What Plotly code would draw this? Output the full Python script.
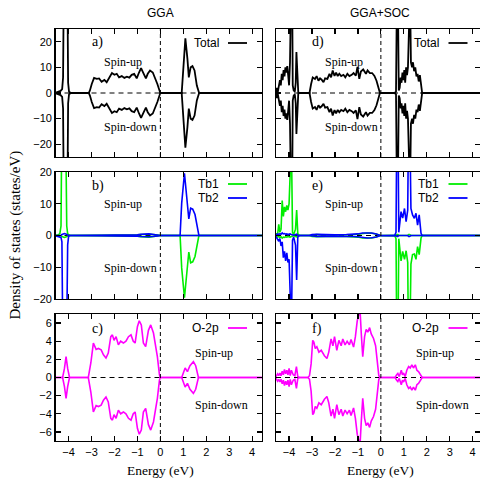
import plotly.graph_objects as go

W, H = 480, 479
SANS = "Liberation Sans"
SERIF = "Liberation Serif"

# ---------------- panel a) GGA total ----------------
a_E = [-4.6, -4.5, -4.42, -4.35, -4.28, -4.24, -4.21, -4.13, -4.05, -4.02, -3.98, -3.9,
       -3.12, -3.07, -2.99, -2.89, -2.77, -2.67, -2.56, -2.44, -2.34, -2.23, -2.11, -2.00,
       -1.90, -1.80, -1.68, -1.57, -1.46, -1.35, -1.25, -1.14, -1.03, -0.93, -0.84, -0.74,
       -0.63, -0.55, -0.45, -0.33, -0.23, -0.13, -0.02, 0.0,
       0.93, 1.0, 1.09, 1.18, 1.24, 1.32, 1.40, 1.49, 1.59, 1.69, 4.5]
a_up = [0, 0.3, 0.6, 0.8, 1.5, 6, 40, 120, 40, 4, 0.5, 0,
        0, 1.0, 3.5, 5.9, 5.5, 5.7, 4.4, 5.1, 4.2, 5.8, 7.8, 7.1,
        7.5, 6.1, 6.6, 5.9, 6.4, 6.0, 7.1, 7.5, 5.7, 8.0, 9.7, 7.8,
        5.7, 7.5, 8.8, 8.0, 6.0, 3.5, 0.5, 0,
        0, 10.7, 21.4, 13.3, 6.1, 10.0, 10.5, 8.8, 2.9, 0, 0]
a_dn = [0, -0.3, -0.6, -0.8, -1.5, -6, -40, -120, -40, -4, -0.5, 0,
        0, -1.0, -3.5, -5.9, -5.5, -5.7, -4.4, -5.1, -4.2, -5.8, -7.8, -7.1,
        -7.5, -6.1, -6.6, -5.9, -6.4, -6.0, -7.1, -7.5, -5.7, -8.0, -9.7, -7.8,
        -5.7, -7.5, -8.8, -8.0, -6.0, -3.5, -0.5, 0,
        0, -10.7, -21.4, -13.3, -6.1, -10.0, -10.5, -8.8, -2.9, 0, 0]

# ---------------- panel d) GGA+SOC total ----------------
d_E = [-4.6, -4.57, -4.53, -4.49, -4.45, -4.40, -4.36, -4.32, -4.28, -4.24, -4.20, -4.16,
       -4.12, -4.08, -4.04, -4.00, -3.96, -3.92, -3.88, -3.84, -3.80, -3.75, -3.71, -3.68,
       -3.64, -3.60, -3.55,
       -3.11, -3.04, -2.97, -2.87, -2.80, -2.72, -2.65, -2.58, -2.50, -2.43, -2.33, -2.24,
       -2.17, -2.10, -2.02, -1.95, -1.88, -1.81, -1.73, -1.63, -1.55, -1.46, -1.37, -1.27,
       -1.19, -1.09, -1.02, -0.94, -0.87, -0.77, -0.65, -0.58, -0.48, -0.38, -0.28, -0.19,
       -0.12, -0.04,
       0.60, 0.66, 0.70, 0.74, 0.78, 0.82, 0.86, 0.90, 0.94, 0.98, 1.02, 1.06, 1.10, 1.14,
       1.18, 1.22, 1.27, 1.31, 1.36, 1.40, 1.45, 1.50, 1.55, 1.60, 1.65, 1.70, 1.75, 1.80, 4.5]
d_up = [0, 0.5, 2.0, 0.5, 2.5, 5.0, 3.0, 7.5, 5.0, 9.0, 6.5, 10.0,
        8.0, 10.5, 7.0, 3.0, 12.0, 60, 60, 3.0, 1.0, 0.5, 4.0, 16.0,
        3.0, 0.3, 0,
        0, 3.5, 6.1, 5.5, 6.6, 4.8, 5.7, 5.2, 4.2, 5.7, 5.5, 7.5,
        6.1, 8.8, 6.7, 8.0, 6.6, 7.5, 6.6, 7.1, 6.1, 7.5, 6.6, 7.1,
        7.8, 6.8, 10.2, 5.5, 8.4, 9.2, 7.5, 8.8, 7.8, 7.8, 6.7, 4.8,
        2.5, 0,
        0, 0.5, 40, 40, 1.0, 2.0, 6.0, 4.0, 8.0, 5.0, 9.0, 4.0, 10.0, 7.0,
        10.0, 40, 40, 12.0, 10.0, 12.0, 8.5, 10.0, 6.5, 7.5, 4.5, 7.0, 3.0, 0, 0]
d_dn = [0, -0.5, -2.0, -0.5, -2.5, -5.0, -3.0, -7.5, -5.0, -9.0, -6.5, -10.0,
        -8.0, -10.5, -7.0, -3.0, -12.0, -60, -60, -3.0, -1.0, -0.5, -4.0, -16.0,
        -3.0, -0.3, 0,
        0, -3.5, -6.1, -5.5, -6.6, -4.8, -5.7, -5.2, -4.2, -5.7, -5.5, -7.5,
        -6.1, -8.8, -6.7, -8.0, -6.6, -7.5, -6.6, -7.1, -6.1, -7.5, -6.6, -7.1,
        -7.8, -6.8, -10.2, -5.5, -8.4, -9.2, -7.5, -8.8, -7.8, -7.8, -6.7, -4.8,
        -2.5, 0,
        0, -0.5, -40, -40, -1.0, -2.0, -6.0, -4.0, -8.0, -5.0, -9.0, -4.0, -10.0, -7.0,
        -10.0, -40, -40, -12.0, -10.0, -12.0, -8.5, -10.0, -6.5, -7.5, -4.5, -7.0, -3.0, 0, 0]

# ---------------- panel b) GGA Tb1 / Tb2 ----------------
b_E = [-4.6, -4.45, -4.38, -4.33, -4.29, -4.24, -4.18, -4.12, -4.08, -4.04, -4.0, -3.94, -3.85,
       -3.12, -3.0, -2.5, -2.0, -1.5, -1.0, -0.85, -0.7, -0.5, -0.35, -0.2, -0.1, 0.0,
       0.86, 0.93, 1.05, 1.15, 1.24, 1.32, 1.41, 1.51, 1.61, 1.68, 4.5]
tb1_up = [0, 0.2, 0.6, 3, 40, 90, 60, 30, 3, 0.5, 0.2, 0, 0,
          0, 0.1, 0.15, 0.15, 0.2, 0.2, 0.3, 0.4, 0.4, 0.3, 0.3, 0.15, 0,
          0, 0, 0, 0, 0, 0, 0, 0, 0, 0, 0]
tb1_dn = [0, 0, 0, -0.1, -0.3, -0.5, -0.6, -0.5, -0.3, -0.1, 0, 0, 0,
          0, -0.1, -0.2, -0.2, -0.2, -0.2, -0.4, -0.5, -0.5, -0.4, -0.3, -0.15, 0,
          0, -10.2, -19.6, -11.2, -5.2, -8.6, -8.3, -6.6, -1.9, 0, 0]
tb2_up = [0, 0, 0, 0.1, 0.3, 0.5, 0.6, 0.5, 0.3, 0.1, 0, 0, 0,
          0, 0.1, 0.2, 0.2, 0.2, 0.2, 0.4, 0.5, 0.5, 0.4, 0.3, 0.15, 0,
          0, 10.2, 19.6, 11.2, 5.2, 8.6, 8.3, 6.6, 1.9, 0, 0]
tb2_dn = [0, -0.2, -0.4, -0.6, -2, -40, -90, -60, -30, -3, -0.3, 0, 0,
          0, -0.1, -0.15, -0.15, -0.2, -0.2, -0.3, -0.4, -0.4, -0.3, -0.3, -0.15, 0,
          0, 0, 0, 0, 0, 0, 0, 0, 0, 0, 0]

# ---------------- panel e) GGA+SOC Tb1 / Tb2 ----------------
e_E = [-4.6, -4.55, -4.50, -4.45, -4.40, -4.35, -4.30, -4.25, -4.20, -4.15, -4.10, -4.05, -4.00,
       -3.96, -3.90, -3.85, -3.80, -3.72, -3.67, -3.62, -3.55,
       -3.12, -3.0, -2.8, -2.6, -2.4, -2.0, -1.5, -1.2, -1.0, -0.8, -0.6, -0.4, -0.2, -0.05,
       0.6, 0.66, 0.70, 0.74, 0.78, 0.82, 0.88, 0.95, 1.03, 1.10, 1.17, 1.21, 1.25, 1.31,
       1.38, 1.46, 1.53, 1.60, 1.67, 1.75, 1.80, 4.5]
tb1s_up = [0, 0.5, 0.3, 3.5, 1.0, 2.0, 11.0, 6.0, 9.0, 7.5, 9.5, 8.0, 10.0,
           30, 30, 1.0, 0.3, 2.0, 8.0, 0.5, 0,
           0, 0.2, 0.3, 0.2, 0.2, 0.15, 0.2, 0.3, 0.4, 0.7, 0.8, 0.7, 0.5, 0.1,
           0, 0, 0.3, 0.3, 0, 0, 0, 0, 0, 0, 0, 0.3, 0.3, 0,
           0, 0, 0, 0, 0, 0, 0, 0]
tb1s_dn = [0, -0.3, -0.5, -0.3, -0.6, -0.4, -0.8, -0.5, -0.6, -0.4, -0.5, -0.3, -0.4,
           -0.5, -0.3, -0.2, -0.1, -0.3, -0.4, -0.1, 0,
           0, -0.3, -0.4, -0.3, -0.3, -0.2, -0.3, -0.3, -0.5, -0.8, -0.9, -0.8, -0.5, -0.1,
           0, -1.0, -40, -40, -1.0, -4.0, -8.0, -5.0, -7.5, -4.8, -8.5, -40, -40, -9.0,
           -6.0, -5.8, -7.5, -3.5, -6.0, -0.8, 0, 0]
tb2s_up = [0, 0.3, 0.5, 0.3, 0.6, 0.4, 0.8, 0.5, 0.6, 0.4, 0.5, 0.3, 0.4,
           0.5, 0.3, 0.2, 0.1, 0.3, 0.4, 0.1, 0,
           0, 0.3, 0.4, 0.3, 0.3, 0.2, 0.3, 0.3, 0.5, 0.8, 0.9, 0.8, 0.5, 0.1,
           0, 1.0, 40, 40, 1.0, 3.3, 7.5, 5.5, 8.5, 4.4, 8.0, 40, 40, 8.5,
           6.5, 5.4, 7.0, 3.3, 6.5, 0.7, 0, 0]
tb2s_dn = [0, -0.5, -1.0, -1.8, -1.0, -3.3, -2.0, -7.0, -5.0, -8.0, -5.5, -8.5, -7.5,
           -30, -30, -1.5, -0.5, -3.0, -14.0, -0.5, 0,
           0, -0.2, -0.3, -0.2, -0.2, -0.15, -0.2, -0.3, -0.4, -0.7, -0.8, -0.7, -0.5, -0.1,
           0, 0, -0.3, -0.3, 0, 0, 0, 0, 0, 0, 0, -0.3, -0.3, 0,
           0, 0, 0, 0, 0, 0, 0, 0]

# ---------------- panel c) GGA O-2p ----------------
c_E = [-4.6, -4.26, -4.18, -4.11, -4.04, -3.96,
       -3.14, -3.03, -2.92, -2.80, -2.70, -2.58, -2.48, -2.37, -2.27, -2.16, -2.09, -2.02,
       -1.93, -1.83, -1.73, -1.61, -1.50, -1.39, -1.28, -1.18, -1.10, -1.00, -0.92, -0.83,
       -0.74, -0.64, -0.52, -0.42, -0.30, -0.22, -0.13, -0.04, 0.0,
       0.93, 1.0, 1.08, 1.18, 1.29, 1.44, 1.54, 1.66, 4.5]
c_up = [0, 0, 1.0, 2.3, 1.0, 0,
        0, 1.6, 3.8, 3.1, 3.2, 3.05, 2.5, 2.15, 2.7, 4.5, 4.7, 4.1,
        4.5, 3.6, 4.0, 3.8, 4.0, 4.5, 4.7, 4.0, 3.8, 5.6, 6.25, 5.8,
        3.8, 3.4, 5.2, 5.8, 4.9, 3.8, 2.3, 0.3, 0,
        0, 0.5, 1.05, 0.65, 1.3, 1.75, 1.3, 0, 0]
c_dn = [0, 0, -1.0, -2.3, -1.0, 0,
        0, -1.6, -3.8, -3.1, -3.2, -3.05, -2.5, -2.15, -2.7, -4.5, -4.7, -4.1,
        -4.5, -3.6, -4.0, -3.8, -4.0, -4.5, -4.7, -4.0, -3.8, -5.6, -6.25, -5.8,
        -3.8, -3.4, -5.2, -5.8, -4.9, -3.8, -2.3, -0.3, 0,
        0, -0.5, -1.05, -0.65, -1.3, -1.75, -1.3, 0, 0]

# ---------------- panel f) GGA+SOC O-2p ----------------
f_E = [-4.6, -4.55, -4.50, -4.45, -4.40, -4.35, -4.30, -4.25, -4.20, -4.15, -4.10, -4.05,
       -4.00, -3.95, -3.90, -3.82, -3.75, -3.68, -3.62, -3.55,
       -3.18, -3.11, -3.04, -2.97, -2.92, -2.86, -2.79, -2.70, -2.60, -2.46, -2.35, -2.27,
       -2.17, -2.09, -2.02, -1.92, -1.83, -1.73, -1.66, -1.56, -1.47, -1.37, -1.30, -1.19,
       -1.11, -1.03, -0.97, -0.91, -0.85, -0.79, -0.71, -0.64, -0.57, -0.49, -0.42, -0.32,
       -0.23, -0.16, -0.09, -0.03,
       0.62, 0.69, 0.74, 0.80, 0.85, 0.89, 0.94, 0.99, 1.06, 1.13, 1.21, 1.28, 1.35, 1.42,
       1.50, 1.57, 1.64, 1.72, 1.80, 4.5]
f_up = [0, 0.2, 0.4, 0.2, 0.5, 0.2, 0.7, 0.3, 0.9, 0.4, 0.8, 0.3,
        1.0, 0.2, 0.8, 0.3, 0.2, 1.2, 0.1, 0,
        0, 0.2, 1.5, 4.1, 3.9, 3.2, 3.4, 2.8, 3.0, 2.4, 2.1, 2.8,
        4.25, 3.5, 4.5, 3.0, 4.1, 3.5, 4.25, 3.6, 4.0, 3.6, 4.2, 3.35,
        4.5, 6.25, 6.8, 7.5, 4.7, 2.3, 4.5, 5.3, 5.0, 5.5, 4.8, 4.3,
        3.5, 1.8, 0.2, 0,
        0, 0.3, 0.45, 0.1, 0.65, 0.8, 0.3, 0.5, 0.1, 0.8, 1.2, 1.05, 1.4, 1.05,
        1.4, 0.8, 0.65, 0.3, 0, 0]
f_dn = [0, -0.2, -0.4, -0.2, -0.5, -0.2, -0.7, -0.3, -0.9, -0.4, -0.8, -0.3,
        -1.0, -0.2, -0.8, -0.3, -0.2, -1.2, -0.1, 0,
        0, -0.2, -1.5, -4.1, -3.9, -3.2, -3.4, -2.8, -3.0, -2.4, -2.1, -2.8,
        -4.25, -3.5, -4.5, -3.0, -4.1, -3.5, -4.25, -3.6, -4.0, -3.6, -4.2, -3.35,
        -4.5, -6.25, -6.8, -7.5, -4.7, -2.3, -4.5, -5.3, -5.0, -5.5, -4.8, -4.3,
        -3.5, -1.8, -0.2, 0,
        0, -0.3, -0.45, -0.1, -0.65, -0.8, -0.3, -0.5, -0.1, -0.8, -1.2, -1.05, -1.4, -1.05,
        -1.4, -0.8, -0.65, -0.3, 0, 0]

x_ticks = [-4, -3, -2, -1, 0, 1, 2, 3, 4]
tot_ticks = [-20, -10, 0, 10, 20]
tb_ticks = [-20, -10, 0, 10, 20]
o_ticks = [-6, -4, -2, 0, 2, 4, 6]

BLACK = "#000000"
GREEN = "#00ee00"
BLUE = "#0000ff"
MAGENTA = "#ff00ff"

fig = go.Figure()


def add(xs, ys, color, width, xa, ya):
    n = min(len(xs), len(ys))
    fig.add_trace(go.Scatter(x=xs[:n], y=ys[:n], mode="lines",
                             line=dict(color=color, width=width),
                             xaxis=xa, yaxis=ya, showlegend=False, hoverinfo="skip"))


add(a_E, a_up, BLACK, 1.8, "x", "y")
add(a_E, a_dn, BLACK, 1.8, "x", "y")
add(d_E, d_up, BLACK, 1.8, "x2", "y2")
add(d_E, d_dn, BLACK, 1.8, "x2", "y2")
add(b_E, tb1_up, GREEN, 1.6, "x3", "y3")
add(b_E, tb1_dn, GREEN, 1.6, "x3", "y3")
add(b_E, tb2_up, BLUE, 1.6, "x3", "y3")
add(b_E, tb2_dn, BLUE, 1.6, "x3", "y3")
add(e_E, tb1s_up, GREEN, 1.6, "x4", "y4")
add(e_E, tb1s_dn, GREEN, 1.6, "x4", "y4")
add(e_E, tb2s_up, BLUE, 1.6, "x4", "y4")
add(e_E, tb2s_dn, BLUE, 1.6, "x4", "y4")
add(c_E, c_up, MAGENTA, 1.6, "x5", "y5")
add(c_E, c_dn, MAGENTA, 1.6, "x5", "y5")
add(f_E, f_up, MAGENTA, 1.6, "x6", "y6")
add(f_E, f_dn, MAGENTA, 1.6, "x6", "y6")

# invisible traces so right-side tick axes are drawn
for xa, ya in (("x2", "y7"), ("x4", "y8"), ("x6", "y9")):
    fig.add_trace(go.Scatter(x=[0], y=[0], mode="markers", marker=dict(opacity=0),
                             xaxis=xa, yaxis=ya, showlegend=False, hoverinfo="skip"))


def px(x):
    return x / W


def py(y):
    return 1 - y / H


xdomL = [px(55.5), px(262)]
xdomR = [px(276), 1.0]
ydoms = [[py(157), py(29)], [py(299), py(172)], [py(441), py(314)]]
yranges = [[-25, 25], [-20, 20], [-7, 7]]
yticks = [tot_ticks, tb_ticks, o_ticks]

base = dict(showline=True, linecolor="black", linewidth=1.4, ticks="inside", ticklen=5,
            tickwidth=1.2, tickcolor="black", showgrid=False, zeroline=False,
            automargin=False,
            tickfont=dict(family=SANS, size=11, color="black"))

layout = {}
for row in range(3):
    for col in range(2):
        k = row * 2 + col + 1
        xs = "" if k == 1 else str(k)
        layout["xaxis" + xs] = dict(base, domain=xdomL if col == 0 else xdomR,
                                    range=[-4.57, 4.43] if col == 0 else [-4.57, 4.32],
                                    anchor="y" + xs, tickvals=x_ticks, mirror="ticks",
                                    showticklabels=(row == 2))
        layout["yaxis" + xs] = dict(base, domain=ydoms[row], range=yranges[row],
                                    anchor="x" + xs, tickvals=yticks[row],
                                    mirror="ticks" if col == 0 else False,
                                    showticklabels=(col == 0))
for j, row in ((7, 0), (8, 1), (9, 2)):
    ov = str(row * 2 + 2)
    layout["yaxis" + str(j)] = dict(base, overlaying="y" + ov, anchor="x" + ov, side="right",
                                    range=yranges[row], tickvals=yticks[row],
                                    showline=False, showticklabels=False)

shapes = []
for k in range(1, 7):
    s = "" if k == 1 else str(k)
    shapes.append(dict(type="line", xref="x" + s, yref="y" + s + " domain", x0=0, x1=0,
                       y0=0, y1=1, line=dict(color="black", width=1, dash="4px,3px"),
                       layer="above"))
    shapes.append(dict(type="line", xref="x" + s + " domain", yref="y" + s, x0=0, x1=1,
                       y0=0, y1=0, line=dict(color="black", width=1, dash="5px,4px"),
                       layer="below"))

annotations = []


def text(x, y, t, family, size, xanchor="left", angle=0):
    annotations.append(dict(x=px(x), y=py(y), xref="paper", yref="paper", text=t,
                            showarrow=False, xanchor=xanchor, yanchor="middle",
                            textangle=angle,
                            font=dict(family=family, size=size, color="black")))


def legline(x0, x1, y, color):
    shapes.append(dict(type="line", xref="paper", yref="paper", x0=px(x0), x1=px(x1),
                       y0=py(y), y1=py(y), line=dict(color=color, width=1.8)))


text(160, 12.5, "GGA", SANS, 12, "center")
text(380, 12.5, "GGA+SOC", SANS, 12, "center")
text(14.5, 235, "Density of states (states/eV)", SERIF, 15, "center", -90)
text(160, 470.5, "Energy (eV)", SERIF, 13.5, "center")
text(380, 470.5, "Energy (eV)", SERIF, 13.5, "center")

for off, letters in ((55.5, ("a)", "b)", "c)")), (276, ("d)", "e)", "f)"))):
    text(off + 34, 42, letters[0], SERIF, 14)
    text(off + 34, 186, letters[1], SERIF, 14)
    text(off + 34, 329, letters[2], SERIF, 14)
    text(off + 46.5, 62, "Spin-up", SERIF, 12)
    text(off + 46.5, 127, "Spin-down", SERIF, 12)
    text(off + 46.5, 204, "Spin-up", SERIF, 12)
    text(off + 46.5, 268, "Spin-down", SERIF, 12)
    text(off + 137.5, 353, "Spin-up", SERIF, 12)
    text(off + 137.5, 405, "Spin-down", SERIF, 12)
    text(off + 165, 43, "Total", SANS, 12, "right")
    legline(off + 172.5, off + 191.5, 43, BLACK)
    text(off + 165, 184, "Tb1", SANS, 12, "right")
    legline(off + 172.5, off + 191.5, 184, GREEN)
    text(off + 165, 198, "Tb2", SANS, 12, "right")
    legline(off + 172.5, off + 191.5, 198, BLUE)
    text(off + 165, 328, "O-2p", SANS, 12, "right")
    legline(off + 172.5, off + 191.5, 328, MAGENTA)

fig.update_layout(width=W, height=H,
                  margin=dict(l=0, r=0, t=0, b=0, pad=0, autoexpand=False),
                  paper_bgcolor="white", plot_bgcolor="white", showlegend=False,
                  hovermode=False,
                  shapes=shapes, annotations=annotations,
                  font=dict(family=SANS, size=11, color="black"), **layout)

# remove the default 8px page margin so the 480x479 figure fills the window exactly
fig.write_html("out.html",
               config={"displayModeBar": False, "staticPlot": True},
               post_script="document.body.style.margin='0';document.body.style.overflow='hidden';")
